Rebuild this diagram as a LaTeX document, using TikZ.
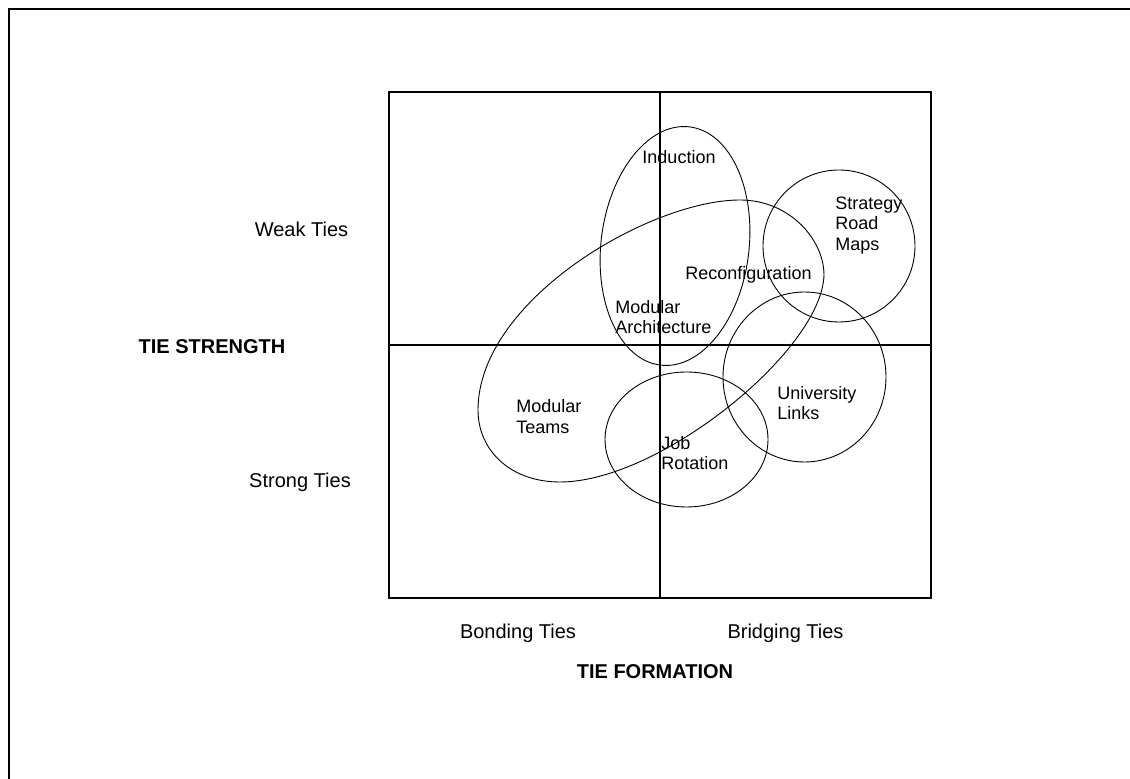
\documentclass[tikz,border=0pt]{standalone}
\usepackage{fontspec}
\setmainfont{Liberation Sans}

\begin{document}
\begin{tikzpicture}[x=0.5pt,y=-0.5pt,
  axislbl/.style={font=\fontsize{10}{12}\selectfont,inner sep=0pt},
  axistitle/.style={font=\fontsize{10}{12}\selectfont\bfseries,inner sep=0pt},
  setlbl/.style={font=\fontsize{9}{10.25}\selectfont,inner sep=0pt,align=left,anchor=west},
  setline/.style={line width=0.45pt}]
\useasboundingbox (0,0) rectangle (1130,779);
\draw[line width=0.6pt] (9,779) -- (9,9) -- (1130,9);

\draw[line width=0.7pt] (389,92) rectangle (931,598);
\draw[line width=0.6pt] (660,92) -- (660,598);
\draw[line width=0.6pt] (389,345) -- (931,345);

\draw[setline] (675,246) ellipse [x radius=74, y radius=120, rotate=-7];
\draw[setline] (740,200) .. controls (790,200) and (824,240) .. (824,275)
  .. controls (822,350) and (660,482) .. (560,482)
  .. controls (510,482) and (478,450) .. (478,410)
  .. controls (478,300) and (650,200) .. cycle;
\draw[setline] (839,246) circle [radius=76];
\draw[setline] (804.5,377) ellipse [x radius=81.5, y radius=85];
\draw[setline] (686.5,439.5) ellipse [x radius=81.5, y radius=67.5];

\node[setlbl,anchor=center] (induction) at (679,157) {Induction};
\node[setlbl,anchor=center] (reconfig) at (748.5,275) {Reconfiguration};
\node[setlbl] (roadmaps) at (835,225.5) {Strategy\\Road\\Maps};
\node[setlbl] (modarch) at (615,317) {Modular\\Architecture};
\node[setlbl] (modteams) at (516,416.5) {Modular\\Teams};
\node[setlbl] (jobrot) at (661,453) {Job\\Rotation};
\node[setlbl] (unilinks) at (777,403) {University\\Links};

\node[axislbl] (weak) at (301.5,229) {Weak Ties};
\node[axislbl] (strong) at (300,482) {Strong Ties};
\node[axistitle] (strength) at (212,347) {TIE STRENGTH};
\node[axislbl] (bonding) at (518,633) {Bonding Ties};
\node[axislbl] (bridging) at (785.5,633) {Bridging Ties};
\node[axistitle] (formation) at (655,672) {TIE FORMATION};
\end{tikzpicture}
\end{document}
